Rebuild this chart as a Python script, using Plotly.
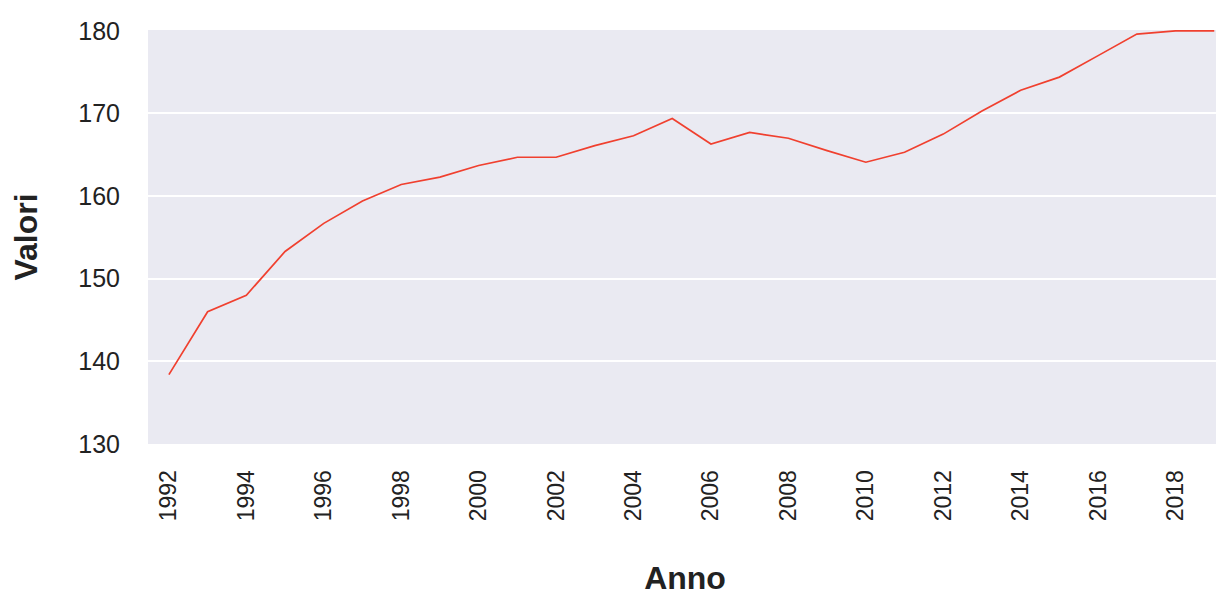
import plotly.graph_objects as go

anni = list(range(1992, 2020))
valori = [138.4, 146.0, 148.0, 153.3, 156.7, 159.4, 161.4, 162.3, 163.7, 164.7,
          164.7, 166.1, 167.3, 169.4, 166.3, 167.7, 167.0, 165.5, 164.1, 165.3,
          167.5, 170.3, 172.8, 174.4, 177.0, 179.6, 180.0, 180.0]
y_ticks = [130, 140, 150, 160, 170, 180]
x_ticks = list(range(1992, 2019, 2))

fig = go.Figure()
fig.add_trace(go.Scatter(x=anni, y=valori, mode="lines",
                         line=dict(color="#F0402F", width=1.7),
                         showlegend=False, hoverinfo="x+y"))

font_family = "Liberation Sans, Arial, sans-serif"

fig.update_layout(
    width=1224, height=598,
    margin=dict(l=140, r=10, t=22, b=162),
    paper_bgcolor="white",
    plot_bgcolor="#EAEAF2",
    font=dict(family=font_family, color="#222222"),
    xaxis=dict(
        range=[1991.46, 2019.2],
        tickvals=x_ticks,
        ticktext=[str(t) for t in x_ticks],
        tickangle=-90,
        tickfont=dict(size=23, family=font_family, color="#222222"),
        ticks="outside", ticklen=16, tickcolor="rgba(0,0,0,0)",
        showgrid=False, zeroline=False, showline=False,
        title=dict(text="<b>Anno</b>", font=dict(size=32, family=font_family, color="#222222"), standoff=46),
    ),
    yaxis=dict(
        range=[130, 180.1],
        tickvals=y_ticks,
        tickfont=dict(size=25, family=font_family, color="#222222"),
        ticks="outside", ticklen=22, tickcolor="rgba(0,0,0,0)",
        showgrid=True, gridcolor="white", gridwidth=1.6,
        zeroline=False, showline=False,
        title=dict(text="<b>Valori</b>", font=dict(size=32, family=font_family, color="#222222"), standoff=34),
    ),
)

fig.write_html("out.html")
